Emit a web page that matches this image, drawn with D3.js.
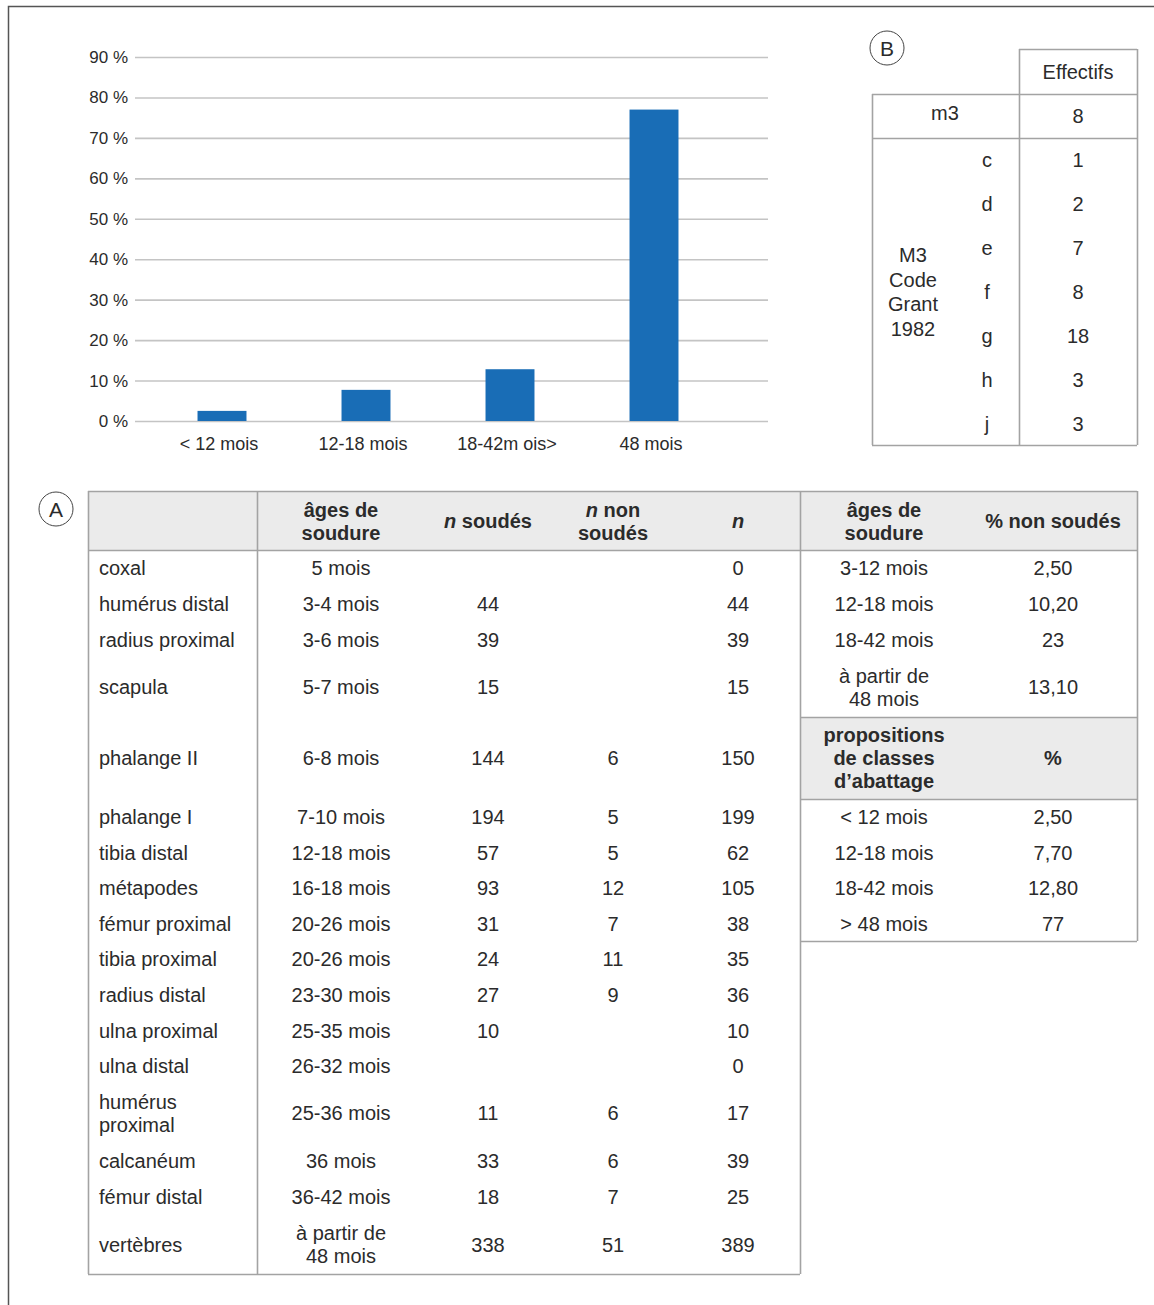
<!DOCTYPE html>
<html>
<head>
<meta charset="utf-8">
<script src="https://cdn.jsdelivr.net/npm/d3@7"></script>
<style>
  body { margin: 0; background: #fff; }
  svg text { font-family: "Liberation Sans", Arial, sans-serif; fill: #2b2b2b; }
</style>
</head>
<body>
<div id="fig"></div>
<script>
"use strict";

// bar chart : proposed slaughter classes
var classLabels = ["< 12 mois", "12-18 mois", "18-42m ois>", "48 mois"];
var classValues = [2.5, 7.7, 12.8, 77];
var yTicks = [0, 10, 20, 30, 40, 50, 60, 70, 80, 90];

// table A
var bones = ["coxal", "humérus distal", "radius proximal", "scapula", "phalange II", "phalange I",
	"tibia distal", "métapodes", "fémur proximal", "tibia proximal", "radius distal", "ulna proximal",
	"ulna distal", "humérus\nproximal", "calcanéum", "fémur distal", "vertèbres"];
var fusionAges = ["5 mois", "3-4 mois", "3-6 mois", "5-7 mois", "6-8 mois", "7-10 mois", "12-18 mois",
	"16-18 mois", "20-26 mois", "20-26 mois", "23-30 mois", "25-35 mois", "26-32 mois", "25-36 mois",
	"36 mois", "36-42 mois", "à partir de\n48 mois"];
var nFused = ["", "44", "39", "15", "144", "194", "57", "93", "31", "24", "27", "10", "", "11", "33", "18", "338"];
var nUnfused = ["", "", "", "", "6", "5", "5", "12", "7", "11", "9", "", "", "6", "6", "7", "51"];
var nTotal = ["0", "44", "39", "15", "150", "199", "62", "105", "38", "35", "36", "10", "0", "17", "39", "25", "389"];

var stageAges = ["3-12 mois", "12-18 mois", "18-42 mois", "à partir de\n48 mois"];
var stageUnfused = ["2,50", "10,20", "23", "13,10"];
var killClasses = ["< 12 mois", "12-18 mois", "18-42 mois", "> 48 mois"];
var killPct = ["2,50", "7,70", "12,80", "77"];

// table B
var m3Value = "8";
var grantCodes = ["c", "d", "e", "f", "g", "h", "j"];
var grantCounts = ["1", "2", "7", "8", "18", "3", "3"];

var W = 1154, H = 1305;
var border = "#a3a3a3";
var headFill = "#ebebeb";

var svg = d3.select("#fig").append("svg")
	.attr("width", W)
	.attr("height", H);

// outer frame (only top and left edges show)
svg.append("path")
	.attr("d", "M8.5," + H + " L8.5,6.5 L" + W + ",6.5")
	.attr("fill", "none")
	.attr("stroke", "#555")
	.attr("stroke-width", 1.5);

// ---------- bar chart ----------
var chart = {left: 135, right: 768, top: 57, bottom: 421};

var y = d3.scaleLinear()
	.domain([0, 90])
	.range([chart.bottom, chart.top]);

var x = d3.scaleBand()
	.domain(classLabels)
	.range([150, 726])
	.paddingInner(0.66)
	.paddingOuter(0.33);

svg.append("g")
	.attr("class", "grid")
	.attr("transform", "translate(" + chart.left + ",0)")
	.call(d3.axisLeft(y).tickValues(yTicks).tickSize(-(chart.right - chart.left)).tickFormat(""))
	.call(function(g) { g.select(".domain").remove(); })
	.selectAll("line")
	.attr("stroke", "#c4c4c4")
	.attr("stroke-width", 1.6);

svg.append("g")
	.attr("transform", "translate(" + (chart.left - 4) + ",0)")
	.call(d3.axisLeft(y).tickValues(yTicks).tickSize(0).tickFormat(function(d) { return d + " %"; }))
	.call(function(g) { g.select(".domain").remove(); })
	.selectAll("text")
	.attr("font-size", 17)
	.attr("fill", "#333");

svg.selectAll("rect.bar")
	.data(classValues)
	.enter()
	.append("rect")
	.attr("class", "bar")
	.attr("x", function(d, i) { return x(classLabels[i]); })
	.attr("width", x.bandwidth())
	.attr("y", function(d) { return y(d); })
	.attr("height", function(d) { return y(0) - y(d); })
	.attr("fill", "#196db6");

svg.append("g")
	.attr("transform", "translate(0," + chart.bottom + ")")
	.call(d3.axisBottom(x).tickSize(0).tickPadding(16))
	.call(function(g) { g.select(".domain").remove(); })
	.selectAll("text")
	.attr("font-size", 18)
	.attr("fill", "#333")
	.attr("dx", -3);

// ---------- helpers ----------
function multiText(g, str, cx, cy, anchor, opts) {
	var lines = str.split("\n");
	var lh = (opts && opts.lh) || 23;
	var t = g.append("text")
		.attr("x", cx)
		.attr("text-anchor", anchor)
		.attr("font-size", (opts && opts.size) || 20)
		.attr("font-weight", (opts && opts.bold) ? "bold" : null);
	lines.forEach(function(l, i) {
		t.append("tspan")
			.attr("x", cx)
			.attr("y", cy + (i - (lines.length - 1) / 2) * lh)
			.attr("dy", "0.35em")
			.text(l);
	});
	return t;
}

function hline(x1, x2, yy) {
	svg.append("line").attr("x1", x1).attr("x2", x2).attr("y1", yy).attr("y2", yy)
		.attr("stroke", border).attr("stroke-width", 1.6);
}
function vline(xx, y1, y2) {
	svg.append("line").attr("x1", xx).attr("x2", xx).attr("y1", y1).attr("y2", y2)
		.attr("stroke", border).attr("stroke-width", 1.6);
}

function circleLabel(cx, cy, letter) {
	svg.append("circle").attr("cx", cx).attr("cy", cy).attr("r", 17)
		.attr("fill", "#fff").attr("stroke", "#444").attr("stroke-width", 1);
	svg.append("text").attr("x", cx).attr("y", cy).attr("dy", "0.36em")
		.attr("text-anchor", "middle").attr("font-size", 21).text(letter);
}

// ---------- table A ----------
var tA = svg.append("g");
var rowEdges = [550, 586, 622, 657, 717, 799, 835, 870, 906, 941, 977, 1013, 1048, 1084, 1142, 1179, 1215, 1274];
var colX = {name: 99, age: 341, fused: 488, unfused: 613, total: 738, rAge: 884, rVal: 1053};

tA.append("rect").attr("x", 88).attr("y", 491).attr("width", 1137 - 88).attr("height", 59).attr("fill", headFill);
tA.append("rect").attr("x", 800).attr("y", 717).attr("width", 337).attr("height", 82).attr("fill", headFill);

hline(88, 1137, 491.5);
hline(88, 1137, 550.5);
hline(800, 1137, 717.5);
hline(800, 1137, 799.5);
hline(800, 1137, 941.5);
hline(88, 800, 1274.5);
vline(88.5, 491, 1274);
vline(257.5, 491, 1274);
vline(800.5, 491, 1274);
vline(1137.5, 491, 941);

var headY = 521;
multiText(tA, "âges de\nsoudure", colX.age, headY, "middle", {bold: true});
var hs = tA.append("text").attr("x", colX.fused).attr("y", headY).attr("dy", "0.35em")
	.attr("text-anchor", "middle").attr("font-size", 20).attr("font-weight", "bold");
hs.append("tspan").attr("font-style", "italic").text("n");
hs.append("tspan").text(" soudés");
var hn = tA.append("text").attr("text-anchor", "middle").attr("font-size", 20).attr("font-weight", "bold");
hn.append("tspan").attr("x", colX.unfused).attr("y", headY - 11.5).attr("dy", "0.35em").attr("font-style", "italic").text("n");
hn.append("tspan").text(" non");
hn.append("tspan").attr("x", colX.unfused).attr("y", headY + 11.5).attr("dy", "0.35em").text("soudés");
tA.append("text").attr("x", colX.total).attr("y", headY).attr("dy", "0.35em").attr("text-anchor", "middle")
	.attr("font-size", 20).attr("font-weight", "bold").attr("font-style", "italic").text("n");
multiText(tA, "âges de\nsoudure", colX.rAge, headY, "middle", {bold: true});
multiText(tA, "% non soudés", colX.rVal, headY, "middle", {bold: true});

bones.forEach(function(b, i) {
	var cy = (rowEdges[i] + rowEdges[i + 1]) / 2;
	multiText(tA, b, colX.name, cy, "start");
	multiText(tA, fusionAges[i], colX.age, cy, "middle");
	multiText(tA, nFused[i], colX.fused, cy, "middle");
	multiText(tA, nUnfused[i], colX.unfused, cy, "middle");
	multiText(tA, nTotal[i], colX.total, cy, "middle");
});

stageAges.forEach(function(a, i) {
	var cy = (rowEdges[i] + rowEdges[i + 1]) / 2;
	multiText(tA, a, colX.rAge, cy, "middle");
	multiText(tA, stageUnfused[i], colX.rVal, cy, "middle");
});

multiText(tA, "propositions\nde classes\nd\u2019abattage", colX.rAge, 758, "middle", {bold: true});
multiText(tA, "%", colX.rVal, 758, "middle", {bold: true});

killClasses.forEach(function(k, i) {
	var cy = (rowEdges[i + 5] + rowEdges[i + 6]) / 2;
	multiText(tA, k, colX.rAge, cy, "middle");
	multiText(tA, killPct[i], colX.rVal, cy, "middle");
});

circleLabel(56, 509, "A");

// ---------- table B ----------
var tB = svg.append("g");
hline(1019, 1137, 49.5);
hline(872, 1137, 94.5);
hline(872, 1137, 138.5);
hline(872, 1137, 445.5);
vline(872.5, 94, 445);
vline(1019.5, 49, 445);
vline(1137.5, 49, 445);

multiText(tB, "Effectifs", 1078, 72, "middle");
multiText(tB, "m3", 945, 113, "middle");
multiText(tB, m3Value, 1078, 116, "middle");
multiText(tB, "M3\nCode\nGrant\n1982", 913, 292, "middle", {lh: 24.5});

grantCodes.forEach(function(c, i) {
	var cy = 160 + i * 44;
	multiText(tB, c, 987, cy, "middle");
	multiText(tB, grantCounts[i], 1078, cy, "middle");
});

circleLabel(887, 48, "B");
</script>
</body>
</html>
